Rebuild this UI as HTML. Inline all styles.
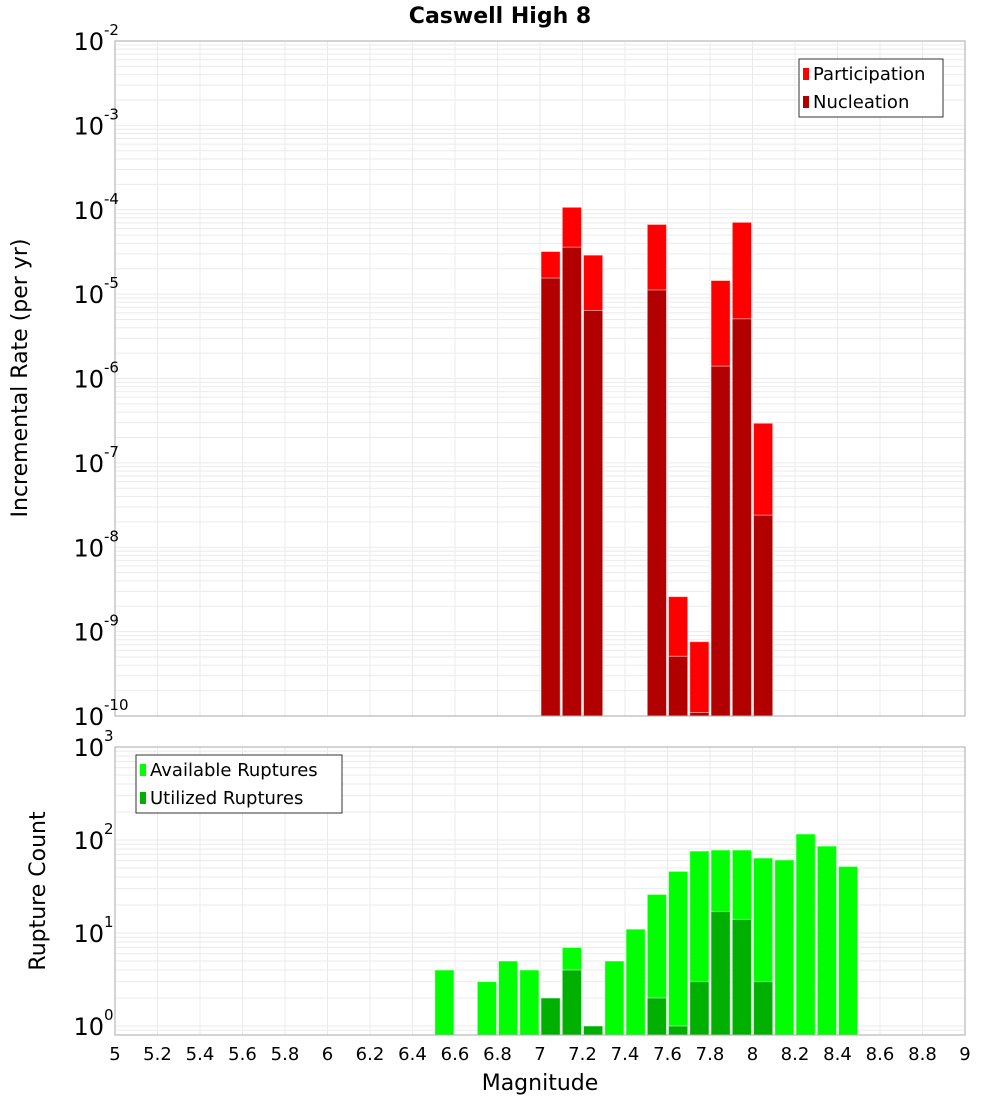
<!DOCTYPE html>
<html><head><meta charset="utf-8"><style>
body{margin:0;background:#fff;}
svg text{font-family:"DejaVu Sans","Liberation Sans",sans-serif;}
</style></head><body>
<svg id="c" width="1000" height="1100" xmlns="http://www.w3.org/2000/svg"></svg>
<script>
const mags = [7.05,7.15,7.25,7.55,7.65,7.75,7.85,7.95,8.05];
const participation = [3.2e-5,1.07e-4,2.9e-5,6.7e-5,2.6e-9,7.6e-10,1.45e-5,7.1e-5,2.95e-7];
const nucleation = [1.55e-5,3.6e-5,6.4e-6,1.12e-5,5.1e-10,1.1e-10,1.4e-6,5.1e-6,2.4e-8];
const countMags = [6.55,6.75,6.85,6.95,7.05,7.15,7.25,7.35,7.45,7.55,7.65,7.75,7.85,7.95,8.05,8.15,8.25,8.35,8.45];
const available = [4,3,5,4,2,7,1,5,11,26,46,76,78,78,64,61,116,86,52];
const utilized = [0,0,0,0,2,4,1,0,0,2,1,3,17,14,3,0,0,0,0];
const xTicks = [5,5.2,5.4,5.6,5.8,6,6.2,6.4,6.6,6.8,7,7.2,7.4,7.6,7.8,8,8.2,8.4,8.6,8.8,9];
const topExps = [-2,-3,-4,-5,-6,-7,-8,-9,-10];
const botExps = [3,2,1,0];

const svg=document.getElementById('c');
const NS='http://www.w3.org/2000/svg';
function el(t,a,p){const e=document.createElementNS(NS,t);for(const k in a)e.setAttribute(k,a[k]);(p||svg).appendChild(e);return e;}
const X0=115,X1=965;
const x=m=>X0+(m-5)/4*(X1-X0);
const T0=41,T1=716; const yT=v=>T0+(-2-Math.log10(v))*(T1-T0)/8;
const B0=747,B1=1035; const bDec=93; const yB=v=>B0+(3-Math.log10(v))*bDec;

function frame(top,bot,ymap,eLo,eHi,name){
  const g=el('g',{});
  
  
  for(let e=eLo;e<eHi;e++)for(let k=1;k<10;k++){const yy=ymap(k*Math.pow(10,e));if(yy>=top&&yy<=bot)el('line',{x1:X0,x2:X1,y1:yy,y2:yy,stroke:'#ebebeb','stroke-width':1},g);}
  xTicks.forEach(t=>el('line',{x1:x(t),x2:x(t),y1:top,y2:bot,stroke:'#ebebeb'},g));
}
frame(T0,T1,yT,-10,-2,'top');
frame(B0,B1,yB,-1,3,'bottom');

function bar(m,v,ymap,bot,color,name){
  const r=el('rect',{x:x(m)-10.6+1,y:ymap(v),width:19.2,height:bot-ymap(v),fill:color,stroke:'#fff','stroke-opacity':0.5,'stroke-width':1});
  
  
}
mags.forEach((m,i)=>{bar(m,participation[i],yT,T1,'#ff0000','participation-bar');});
mags.forEach((m,i)=>{bar(m,nucleation[i],yT,T1,'#b20000','nucleation-bar');});
countMags.forEach((m,i)=>{if(available[i]>0)bar(m,available[i],yB,B1,'#00ff00','available-bar');});
countMags.forEach((m,i)=>{if(utilized[i]>0)bar(m,utilized[i],yB,B1,'#00b000','utilized-bar');});

[[T0,T1],[B0,B1]].forEach(([a,b])=>el('rect',{x:X0,y:a,width:X1-X0,height:b-a,fill:'none',stroke:'#aaa'}));

function ylab(yy,e,name){
  const t=el('text',{x:104,y:yy+9,'text-anchor':'end','font-size':24,fill:'#000'});
  
  
  t.textContent='10';
  const s=el('text',{x:104,y:yy-6,'font-size':15,fill:'#000'});s.textContent=e;
}
topExps.forEach(e=>ylab(yT(Math.pow(10,e)),e,'y-tick-label'));
botExps.forEach(e=>ylab(yB(Math.pow(10,e)),e,'y-tick-label'));
xTicks.forEach(t=>{const tx=el('text',{x:x(t),y:1060,'text-anchor':'middle','font-size':18});tx.textContent=String(t);});

function txt(s,a,name){const t=el('text',a);t.textContent=s;return t;}
txt('Caswell High 8',{x:500,y:23,'text-anchor':'middle','font-size':22,'font-weight':'bold'},'chart-title');
txt('Magnitude',{x:540,y:1090,'text-anchor':'middle','font-size':22},'x-axis-title');
txt('Incremental Rate (per yr)',{x:0,y:0,transform:'translate(27,378) rotate(-90)','text-anchor':'middle','font-size':22},'top-y-axis-title');
txt('Rupture Count',{x:0,y:0,transform:'translate(45,891) rotate(-90)','text-anchor':'middle','font-size':22},'bottom-y-axis-title');

function legend(x0,y0,w,items,name){
  const g=el('g',{});
  el('rect',{x:x0,y:y0,width:w,height:58,fill:'#fff',stroke:'#333'},g);
  items.forEach((it,i)=>{el('rect',{x:x0+4,y:y0+9+i*28,width:6,height:12,fill:it[1]},g);const t=el('text',{x:x0+14,y:y0+21+i*28,'font-size':18},g);t.textContent=it[0];});
}
legend(799,59,144,[['Participation','#ff0000'],['Nucleation','#b20000']],'top-legend');
legend(136,755,206,[['Available Ruptures','#00ff00'],['Utilized Ruptures','#00b000']],'bottom-legend');
</script>
</body></html>
